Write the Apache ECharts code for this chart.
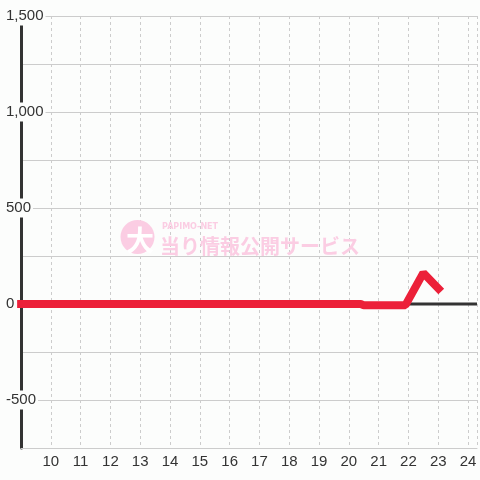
<!DOCTYPE html>
<html>
<head>
<meta charset="utf-8">
<script src="https://cdn.jsdelivr.net/npm/echarts@6/dist/echarts.min.js"></script>
<style>
html,body{margin:0;padding:0;background:#fcfdfc;}
#chart{width:480px;height:480px;}
</style>
</head>
<body>
<div id="chart"></div>
<script>
// Data (hour of day, value)
const hours = [8.87, 20.4, 20.5, 21.9, 22.5, 23.1];
const values = [0, 0, -6, -6, 162, 65];
const xTickLabels = [10, 11, 12, 13, 14, 15, 16, 17, 18, 19, 20, 21, 22, 23, 24];
const yTickLabels = [-500, 0, 500, 1000, 1500];
const xMin = 9, xMax = 24.3;
const yMin = -750, yMax = 1500, yStep = 250;

const chart = echarts.init(document.getElementById('chart'), null, {renderer: 'canvas'});
const font = "'Liberation Sans', Arial, sans-serif";
const pink = '#fbcde3';

const option = {
  backgroundColor: '#fcfdfc',
  animation: false,
  grid: {left: 21, right: 0, top: 16, bottom: 32, containLabel: false},
  xAxis: {
    type: 'value', min: xMin, max: xMax, interval: 1,
    axisLine: {show: true, onZero: false, lineStyle: {color: '#cccccc', width: 1}},
    axisTick: {show: false},
    splitLine: {show: true, lineStyle: {color: '#cccccc', type: [3, 3], width: 1}},
    axisLabel: {
      margin: 6, color: '#333333', fontSize: 15, fontFamily: font,
      showMinLabel: true, showMaxLabel: true,
      formatter: v => (xTickLabels.indexOf(v) >= 0 ? String(v) : '')
    }
  },
  yAxis: {
    type: 'value', min: yMin, max: yMax, interval: yStep,
    axisLine: {show: true, lineStyle: {color: '#333333', width: 3}},
    axisTick: {show: false},
    splitLine: {show: true, lineStyle: {color: '#cccccc', width: 1}},
    axisLabel: {
      margin: 16, align: 'left', color: '#333333', fontSize: 15, fontFamily: font,
      backgroundColor: '#fcfdfc', padding: [2, 2, 2, 1],
      formatter: v => (yTickLabels.indexOf(v) >= 0 ? v.toLocaleString('en-US') : '')
    }
  },
  graphic: [
    {type: 'circle', shape: {cx: 137.5, cy: 237, r: 17}, style: {fill: pink}, silent: true, z: 1},
    {type: 'text', x: 140, y: 240, style: {text: '大', fill: '#ffffff', font: "bold 28px 'Noto Sans CJK JP'", textAlign: 'center', textVerticalAlign: 'middle'}, silent: true, z: 1},
    {type: 'text', x: 162, y: 227, style: {text: 'PAPIMO-NET', fill: pink, font: "bold 8px 'DejaVu Sans'", textAlign: 'left', textVerticalAlign: 'middle'}, silent: true, z: 1},
    {type: 'text', x: 160, y: 246, style: {text: '当り情報公開サービス', fill: pink, font: "bold 20px 'Noto Sans CJK JP'", textAlign: 'left', textVerticalAlign: 'middle'}, silent: true, z: 1}
  ],
  series: [
    {
      type: 'line', silent: true, symbol: 'none', z: 2,
      data: [[xMin, 0], [xMax, 0]],
      lineStyle: {color: '#333333', width: 3}
    },
    {
      type: 'line', symbol: 'none', clip: false, z: 3,
      data: hours.map((h, i) => [h, values[i]]),
      lineStyle: {color: '#ec2039', width: 8, cap: 'butt'}
    }
  ]
};
chart.setOption(option);
</script>
</body>
</html>
